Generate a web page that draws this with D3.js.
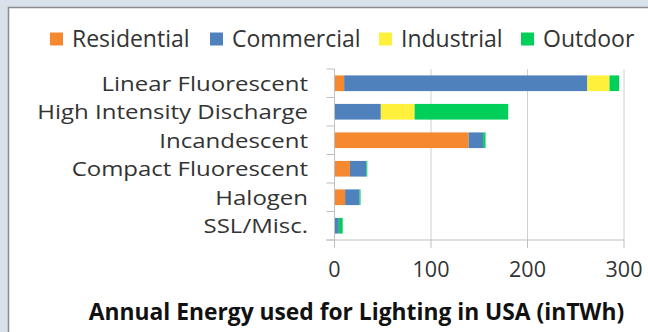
<!DOCTYPE html>
<html>
<head>
<meta charset="utf-8">
<script src="https://cdn.jsdelivr.net/npm/d3@7"></script>
<style>
  body { margin: 0; background: #d9e2eb; }
  svg { display: block; }
</style>
</head>
<body>
<div id="chart"></div>
<script>
var w = 648
var h = 332

var categories = ['Linear Fluorescent', 'High Intensity Discharge', 'Incandescent', 'Compact Fluorescent', 'Halogen', 'SSL/Misc.']
var seriesNames = ['Residential', 'Commercial', 'Industrial', 'Outdoor']
var residential = [10, 0, 139, 16, 11, 0]
var commercial = [252, 48, 15, 17, 15, 4.5]
var industrial = [23, 35, 0, 0, 0, 0]
var outdoor = [10, 97, 2.5, 1, 1, 4]
var xTicks = [0, 100, 200, 300]
var xTitle = 'Annual Energy used for Lighting in USA (inTWh)'

var colors = {
  'Residential': '#f6892f',
  'Commercial': '#4f81bd',
  'Industrial': '#fff03c',
  'Outdoor': '#00d05a'
}

var rows = categories.map(function (c, i) {
  return { cat: c, Residential: residential[i], Commercial: commercial[i], Industrial: industrial[i], Outdoor: outdoor[i] }
})

var svg = d3.select('#chart')
  .append('svg')
  .attr('width', w)
  .attr('height', h)

// white panel
svg.append('rect')
  .attr('x', 8.5)
  .attr('y', 7.5)
  .attr('width', w + 10)
  .attr('height', h + 10)
  .attr('fill', '#fff')
  .attr('stroke', '#8c8c8c')
  .attr('stroke-width', 1.5)

var x = d3.scaleLinear().domain([0, 300]).range([334.5, 624])
var y = d3.scaleBand().domain(categories).range([69, 240]).paddingInner(0.45).paddingOuter(0.225)

// gridlines
svg.selectAll('.grid')
  .data(xTicks.slice(1))
  .enter()
  .append('line')
  .attr('x1', function (d) { return x(d) })
  .attr('x2', function (d) { return x(d) })
  .attr('y1', 69)
  .attr('y2', 240)
  .attr('stroke', '#d0d0d0')
  .attr('stroke-width', 1)

var stack = d3.stack().keys(seriesNames)
var layers = stack(rows)

svg.selectAll('.layer')
  .data(layers)
  .enter()
  .append('g')
  .attr('fill', function (d) { return colors[d.key] })
  .selectAll('rect')
  .data(function (d) { return d })
  .enter()
  .append('rect')
  .attr('x', function (d) { return x(d[0]) })
  .attr('width', function (d) { return x(d[1]) - x(d[0]) })
  .attr('y', function (d) { return y(d.data.cat) })
  .attr('height', y.bandwidth())

// axes
var axisColor = '#bfbfbf'
svg.append('line')
  .attr('x1', x(0)).attr('x2', x(0))
  .attr('y1', 69).attr('y2', 240)
  .attr('stroke', axisColor)
var bounds = categories.map(function (c) { return y(c) - y.step() * y.paddingInner() / 2 })
bounds.push(240)
svg.selectAll('.ytick')
  .data(bounds)
  .enter()
  .append('line')
  .attr('x1', x(0) - 8).attr('x2', x(0))
  .attr('y1', function (d) { return d }).attr('y2', function (d) { return d })
  .attr('stroke', axisColor)
svg.append('line')
  .attr('x1', x(0) - 8).attr('x2', x(300))
  .attr('y1', 240).attr('y2', 240)
  .attr('stroke', axisColor)
svg.selectAll('.xtick')
  .data(xTicks)
  .enter()
  .append('line')
  .attr('x1', function (d) { return x(d) }).attr('x2', function (d) { return x(d) })
  .attr('y1', 240).attr('y2', 248)
  .attr('stroke', axisColor)

var font = "'Open Sans', sans-serif"
var textColor = '#333'
svg.selectAll('.xlabel')
  .data(xTicks)
  .enter()
  .append('text')
  .attr('x', function (d) { return x(d) })
  .attr('y', 277)
  .attr('text-anchor', 'middle')
  .attr('font-family', font)
  .attr('font-size', 21.5)
  .attr('fill', textColor)
  .text(function (d) { return d })

// category labels: smaller font, stretched wide like the original
svg.selectAll('.ylabel')
  .data(categories)
  .enter()
  .append('text')
  .attr('transform', function (d) {
    return 'translate(308,' + (y(d) + y.bandwidth() / 2 + 7.5) + ') scale(1.17,1)'
  })
  .attr('text-anchor', 'end')
  .attr('font-family', font)
  .attr('font-size', 20.5)
  .attr('fill', textColor)
  .text(function (d) { return d })

svg.append('text')
  .attr('x', 356.5)
  .attr('y', 320)
  .attr('text-anchor', 'middle')
  .attr('font-family', font)
  .attr('font-weight', 'bold')
  .attr('font-size', 22.8)
  .attr('fill', '#111')
  .text(xTitle)

// legend
var legendX = [50, 210, 379, 521]
var legend = svg.selectAll('.legend')
  .data(seriesNames)
  .enter()
  .append('g')
  .attr('transform', function (d, i) { return 'translate(' + legendX[i] + ',32.5)' })
legend.append('rect')
  .attr('width', 13)
  .attr('height', 13)
  .attr('fill', function (d) { return colors[d] })
legend.append('text')
  .attr('x', 22)
  .attr('y', 14)
  .attr('font-family', font)
  .attr('font-size', 23)
  .attr('fill', textColor)
  .text(function (d) { return d })
</script>
</body>
</html>
